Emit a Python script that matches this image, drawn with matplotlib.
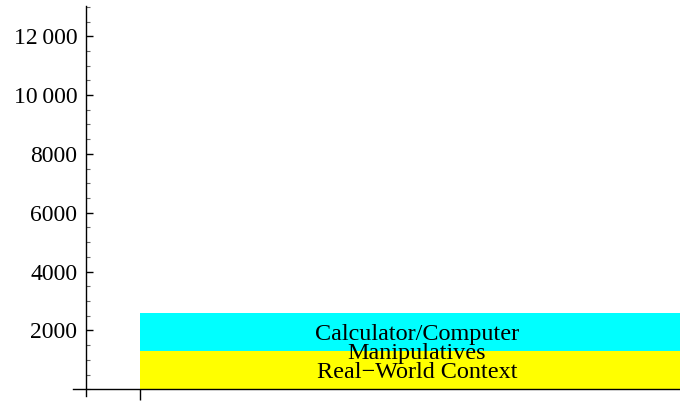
import matplotlib
matplotlib.use("Agg")
import matplotlib.pyplot as plt
from matplotlib.ticker import FixedLocator, MultipleLocator
import numpy as np

# stacked segments, bottom to top
categories = ["Real\u2212World Context", "Manipulatives", "Calculator/Computer"]
values = [1300, 0, 1300]
colors = ["#ffff00", "#ff00ff", "#00ffff"]

ytick_values = [2000, 4000, 6000, 8000, 10000, 12000]
ytick_labels = ["2000", "4000", "6000", "8000", "10\u2009000", "12\u2009000"]

plt.rcParams["font.family"] = ["Liberation Serif", "DejaVu Serif"]

W, H = 680, 403
fig = plt.figure(figsize=(W / 100, H / 100), dpi=100)
ax = fig.add_axes([72.7 / W, (H - 396) / H, (W - 72.7) / W, 390 / H])

bottoms = np.concatenate([[0], np.cumsum(values)[:-1]])
for name, v, b, c in zip(categories, values, bottoms, colors):
    ax.bar(0, v, width=1.0, bottom=b, align="edge", color=c, linewidth=0)
for name, v, b in zip(categories, values, bottoms):
    ax.text(0.5, b + v / 2, name, ha="center", va="center_baseline",
            fontsize=17.4)

ax.set_xlim(-0.1215, 0.9747)
ax.set_ylim(-227, 13027)

for s in ("top", "right"):
    ax.spines[s].set_visible(False)
ax.spines["left"].set_position(("data", -0.098))
ax.spines["bottom"].set_position(("data", 0))
ax.spines["left"].set_linewidth(1.0)
ax.spines["bottom"].set_linewidth(1.0)

ax.yaxis.set_major_locator(FixedLocator(ytick_values))
ax.set_yticklabels(ytick_labels)
ax.yaxis.set_minor_locator(MultipleLocator(500))
ax.tick_params(axis="y", which="major", direction="in", length=5, width=1.0,
               labelsize=17, pad=6)
ax.tick_params(axis="y", which="minor", direction="in", length=3.2, width=0.8,
               color="#666666")
ax.set_xticks([0])
ax.set_xticklabels([""])
ax.tick_params(axis="x", which="major", direction="out", length=8, width=1.0)

fig.savefig("out.png", dpi=100)
